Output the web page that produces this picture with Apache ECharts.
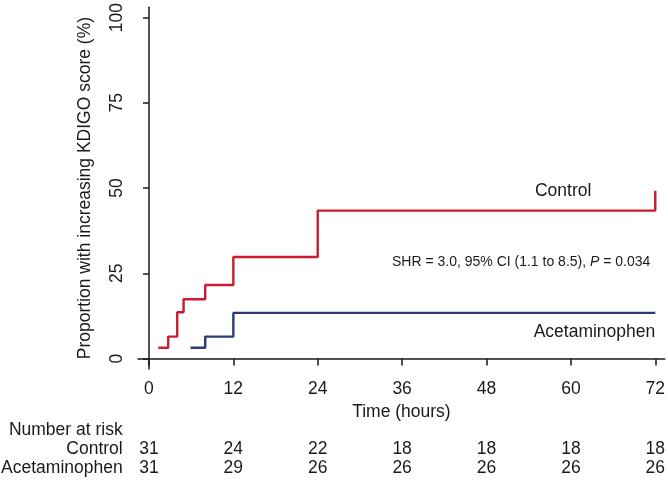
<!DOCTYPE html>
<html><head><meta charset="utf-8">
<script src="https://cdn.jsdelivr.net/npm/echarts@6/dist/echarts.min.js"></script>
<style>html,body{margin:0;padding:0;background:#fff}#c{width:668px;height:480px}</style>
</head><body><div id="c"></div>
<script>
// Data
const controlTimes  = [1.33, 2.74, 4.02, 4.92, 8.0, 12.0, 24.0, 72, 72];
const controlValues = [3.2, 6.45, 13.6, 17.4, 21.6, 29.8, 43.4, 43.4, 49.2];
const acetTimes     = [5.91, 8.0, 12.0, 72];
const acetValues    = [3.2, 6.45, 13.4, 13.4];
const xTicks = [0, 12, 24, 36, 48, 60, 72];
const yTicks = [0, 25, 50, 75, 100];
const riskGroups = ['Control', 'Acetaminophen'];
const riskControl = [31, 24, 22, 18, 18, 18, 18];
const riskAcet    = [31, 29, 26, 26, 26, 26, 26];
const statText = 'SHR = 3.0, 95% CI (1.1 to 8.5), {i|P} = 0.034';

const FONT = '"Liberation Sans", Arial, Helvetica, sans-serif';
const FS = 17.5;
const TXT = '#1a1a1a';
const RED = '#cc1a33';
const BLUE = '#2c3b78';

const chart = echarts.init(document.getElementById('c'), null, {renderer: 'canvas'});
const zip = (a, b) => a.map((v, i) => [v, b[i]]);

chart.setOption({
  animation: false,
  backgroundColor: '#fff',
  grid: {left: 138, top: 4, right: 2, bottom: 111, containLabel: false},
  xAxis: {
    type: 'value', min: -1.56, max: 73.36,
    axisLine: {show: true, lineStyle: {color: TXT, width: 1.5}},
    axisTick: {show: true, length: 7, customValues: xTicks, lineStyle: {color: TXT, width: 1.5}},
    axisLabel: {customValues: xTicks, margin: 11, fontSize: FS, fontFamily: FONT, color: TXT},
    splitLine: {show: false},
    name: 'Time (hours)', nameLocation: 'middle', nameGap: 31,
    nameTextStyle: {fontSize: FS, fontFamily: FONT, color: TXT}
  },
  yAxis: {
    type: 'value', min: -3.05, max: 103.05,
    axisLine: {show: true, lineStyle: {color: TXT, width: 1.5}},
    axisTick: {show: true, length: 6, customValues: yTicks, lineStyle: {color: TXT, width: 1.5}},
    axisLabel: {customValues: yTicks, rotate: 90, margin: 12, fontSize: FS, fontFamily: FONT, color: TXT},
    splitLine: {show: false},
    name: 'Proportion with increasing KDIGO score (%)', nameLocation: 'middle', nameGap: 44,
    nameTextStyle: {fontSize: FS, fontFamily: FONT, color: TXT}
  },
  series: [
    {type: 'line', step: 'end', data: zip(controlTimes, controlValues), symbol: 'none',
     lineStyle: {color: RED, width: 2.4}, z: 3},
    {type: 'line', step: 'end', data: zip(acetTimes, acetValues), symbol: 'none',
     lineStyle: {color: BLUE, width: 2.4}, z: 3}
  ]
});

const px = (x, y) => chart.convertToPixel({gridIndex: 0}, [x, y]);
const g = [];
const txt = (x, y, text, align, extra) => g.push({
  type: 'text', x: x, y: y, silent: true,
  style: Object.assign({text: text, fill: TXT, fontSize: FS, fontFamily: FONT,
    align: align, verticalAlign: 'middle'}, extra || {})
});
// curve labels
let p = px(58.9, 49.0); txt(p[0], p[1], 'Control', 'center');
p = px(72, 7.8); txt(p[0], p[1], 'Acetaminophen', 'right');
p = px(71.3, 28.4);
txt(p[0], p[1], statText, 'right', {fontSize: 14,
  rich: {i: {fontStyle: 'italic', fontSize: 14, fontFamily: FONT, fill: TXT}}});
// number at risk table
const labelRight = 122.7;
txt(labelRight, 430, 'Number at risk', 'right');
const rowY = [449, 468.5];
const rows = [riskControl, riskAcet];
rows.forEach((row, r) => {
  txt(labelRight, rowY[r], riskGroups[r], 'right');
  row.forEach((n, i) => {
    const q = px(xTicks[i], 0);
    txt(q[0], rowY[r], String(n), 'center');
  });
});
chart.setOption({graphic: g});
</script>
</body></html>
